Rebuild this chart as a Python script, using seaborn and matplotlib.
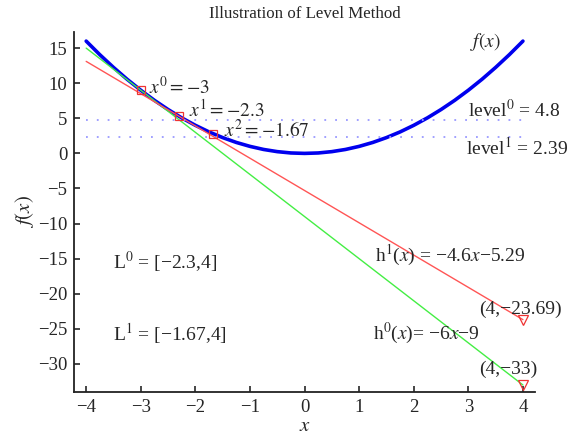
import matplotlib
matplotlib.use('Agg')
import matplotlib.pyplot as plt
import seaborn as sns
import pandas as pd

# Valores
curva_x = [-4, -3.75, -3.5, -3.25, -3, -2.75, -2.5, -2.25, -2, -1.75, -1.5, -1.25, -1,
           -0.75, -0.5, -0.25, 0, 0.25, 0.5, 0.75, 1, 1.25, 1.5, 1.75, 2, 2.25, 2.5,
           2.75, 3, 3.25, 3.5, 3.75, 4]
curva_y = [16, 14.06, 12.25, 10.56, 9, 7.56, 6.25, 5.06, 4, 3.06, 2.25, 1.56, 1,
           0.56, 0.25, 0.06, 0, 0.06, 0.25, 0.56, 1, 1.56, 2.25, 3.06, 4, 5.06, 6.25,
           7.56, 9, 10.56, 12.25, 14.06, 16]

h0_x = [-4, 4]
h0_y = [15, -33]
h1_x = [-4, 4]
h1_y = [13.11, -23.69]

niveis = [4.8, 2.39]
nivel_x = [-4, 4]

pontos_x = [-3, -2.3, -1.67]
pontos_y = [9, 5.29, 2.79]

fim_x = [4, 4]
fim_y = [-23.69, -33]

sns.set_style("ticks")
plt.rcParams['font.family'] = ['Liberation Serif', 'DejaVu Serif']
plt.rcParams['mathtext.fontset'] = 'stix'
plt.rcParams['xtick.direction'] = 'in'
plt.rcParams['ytick.direction'] = 'in'

fig = plt.figure(figsize=(5.84, 4.38), dpi=100)
ax = fig.add_axes([0.127, 0.105, 0.789, 0.822])

df_curva = pd.DataFrame({'x': curva_x, 'y': curva_y})
sns.lineplot(data=df_curva, x='x', y='y', ax=ax, color='#0000ee', linewidth=2.6, sort=False)
sns.lineplot(x=h0_x, y=h0_y, ax=ax, color='#44ee44', linewidth=1.0)
sns.lineplot(x=h1_x, y=h1_y, ax=ax, color='#ff5555', linewidth=1.0)
for nv in niveis:
    sns.lineplot(x=nivel_x, y=[nv, nv], ax=ax, color='#9999ff', linewidth=1.3,
                 linestyle=(0, (1, 5)))

ax.plot(pontos_x, pontos_y, 's', markersize=6, markerfacecolor='none',
        markeredgecolor='#ee3333', markeredgewidth=0.9)
ax.plot(fim_x, fim_y, 'v', markersize=7, markerfacecolor='none',
        markeredgecolor='#ee3333', markeredgewidth=0.9)

fs = 14
ax.text(-2.85, 9.4, r'$x^0 = -3$', fontsize=fs, va='center')
ax.text(-2.12, 6.2, r'$x^1 = -2.3$', fontsize=fs, va='center')
ax.text(-1.48, 3.3, r'$x^2 = -1.67$', fontsize=fs, va='center')
ax.text(3.03, 15.9, r'$f(x)$', fontsize=fs, va='center')
ax.text(3.0, 6.2, 'level$^0$ = 4.8', fontsize=fs, va='center')
ax.text(2.96, 0.8, 'level$^1$ = 2.39', fontsize=fs, va='center')
ax.text(-3.5, -15.5, 'L$^0$ = [\u22122.3,4]', fontsize=fs, va='center')
ax.text(-3.5, -25.6, 'L$^1$ = [\u22121.67,4]', fontsize=fs, va='center')
ax.text(1.29, -14.5, 'h$^1$($x$) = \u22124.6$x$\u22125.29', fontsize=fs, va='center')
ax.text(1.26, -25.6, 'h$^0$($x$)= \u22126$x$\u22129', fontsize=fs, va='center')
ax.text(3.2, -22.2, '(4,\u221223.69)', fontsize=fs, va='center')
ax.text(3.2, -30.7, '(4,\u221233)', fontsize=fs, va='center')

ax.set_xlim(-4.22, 4.22)
ax.set_ylim(-34, 17.3)
ax.set_xticks(range(-4, 5))
ax.set_yticks(range(-30, 16, 5))
ax.tick_params(labelsize=13.5, length=4, width=1.2, pad=5)
for sp in ax.spines.values():
    sp.set_linewidth(1.3)
    sp.set_color('#222222')
ax.set_xlabel(r'$x$', fontsize=15, labelpad=1)
ax.set_ylabel(r'$f(x)$', fontsize=15, labelpad=1)
ax.set_title('Illustration of Level Method', fontsize=12.2, pad=10)
sns.despine(ax=ax)

fig.savefig('out.png', dpi=100)
